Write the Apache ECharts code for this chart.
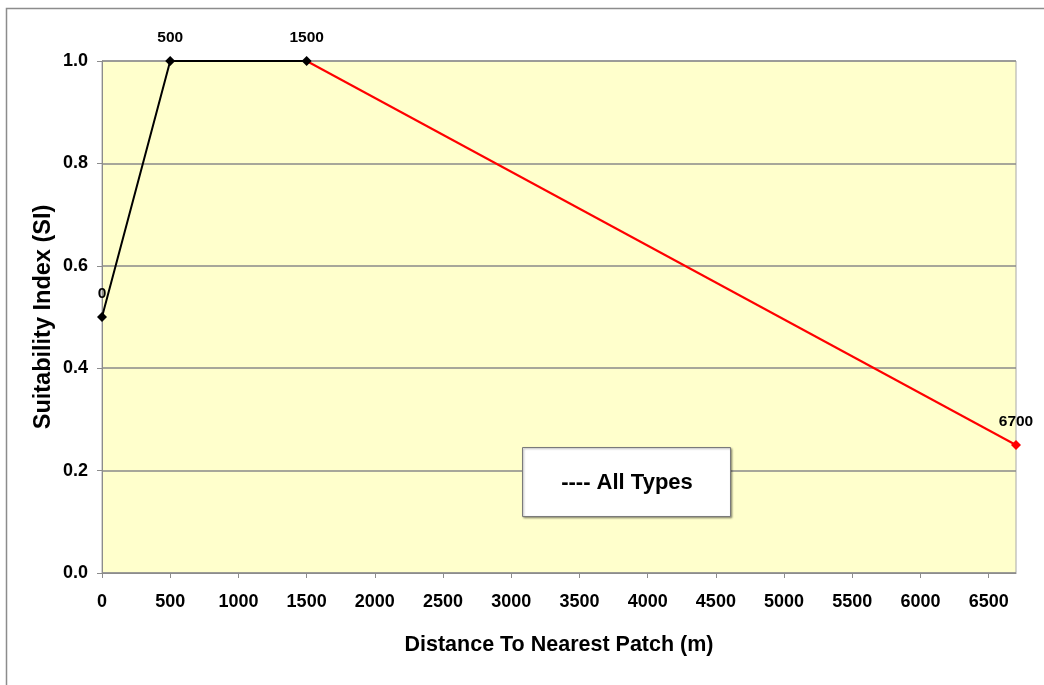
<!DOCTYPE html>
<html>
<head>
<meta charset="utf-8">
<style>
  html, body { margin: 0; padding: 0; background: #ffffff; }
  #chart { width: 1044px; height: 685px; }
</style>
<script src="https://cdn.jsdelivr.net/npm/echarts@6/dist/echarts.min.js"></script>
</head>
<body>
<div id="chart"></div>
<script>
// Distance to nearest patch (m) vs. suitability index
const risingDistance = [0, 500, 1500];
const risingSI = [0.5, 1.0, 1.0];
const fallingDistance = [1500, 6700];
const fallingSI = [1.0, 0.25];
const xTickValues = [0, 500, 1000, 1500, 2000, 2500, 3000, 3500, 4000, 4500, 5000, 5500, 6000, 6500];
const yTickValues = [0, 0.2, 0.4, 0.6, 0.8, 1.0];
const noteText = '---- All Types';

const FONT = '"Liberation Sans", Arial, sans-serif';

const chart = echarts.init(document.getElementById('chart'), null, { renderer: 'canvas' });

const risingData = risingDistance.map((x, i) => [x, risingSI[i]]);
const fallingData = fallingDistance.map((x, i) => ({
  value: [x, fallingSI[i]],
  symbol: i === 0 ? 'none' : 'diamond',
  label: { show: i !== 0 }
}));

const pointLabel = {
  show: true,
  position: 'top',
  distance: 10,
  formatter: p => String(p.value[0]),
  fontFamily: FONT,
  fontWeight: 'bold',
  fontSize: 15.5,
  color: '#000000'
};

chart.setOption({
  animation: false,
  backgroundColor: '#ffffff',
  grid: {
    left: 102, right: 28, top: 61, bottom: 112,
    show: true,
    backgroundColor: '#ffffcc',
    borderColor: '#a8a8a8',
    borderWidth: 1
  },
  xAxis: {
    type: 'value',
    min: 0, max: 6700, interval: 500,
    name: 'Distance To Nearest Patch (m)',
    nameLocation: 'middle',
    nameGap: 61,
    nameMoveOverlap: false,
    nameTextStyle: { fontFamily: FONT, fontWeight: 'bold', fontSize: 21.5, color: '#000' },
    axisLine: { show: true, lineStyle: { color: '#8c8c8c', width: 1 } },
    axisTick: { show: true, length: 5, lineStyle: { color: '#8c8c8c' }, customValues: xTickValues },
    axisLabel: {
      fontFamily: FONT, fontWeight: 'bold', fontSize: 18, color: '#000', margin: 20,
      customValues: xTickValues,
      formatter: v => String(v)
    },
    splitLine: { show: false }
  },
  yAxis: {
    type: 'value',
    min: 0, max: 1, interval: 0.2,
    name: 'Suitability Index (SI)',
    nameLocation: 'middle',
    nameGap: 46,
    nameMoveOverlap: false,
    nameTextStyle: { fontFamily: FONT, fontWeight: 'bold', fontSize: 23.5, color: '#000' },
    axisLine: { show: true, lineStyle: { color: '#8c8c8c', width: 1 } },
    axisTick: { show: true, length: 5, lineStyle: { color: '#8c8c8c' }, customValues: yTickValues },
    axisLabel: {
      fontFamily: FONT, fontWeight: 'bold', fontSize: 18, color: '#000', margin: 14,
      customValues: yTickValues,
      formatter: v => v.toFixed(1)
    },
    splitLine: { show: true, lineStyle: { color: '#8a8a8a', width: 1.5 } }
  },
  series: [
    {
      type: 'line',
      data: risingData,
      symbol: 'diamond',
      symbolSize: 10,
      lineStyle: { color: '#000000', width: 2 },
      itemStyle: { color: '#000000' },
      label: pointLabel,
      z: 3
    },
    {
      type: 'line',
      data: fallingData,
      symbol: 'diamond',
      symbolSize: 10,
      lineStyle: { color: '#ff0000', width: 2 },
      itemStyle: { color: '#ff0000' },
      label: pointLabel,
      z: 2
    }
  ],
  graphic: [
    {
      type: 'rect',
      silent: true,
      shape: { x: 6.5, y: 8.5, width: 1100, height: 800 },
      style: { fill: null, stroke: '#8c8c8c', lineWidth: 1.5 },
      z: 100
    },
    {
      type: 'rect',
      silent: true,
      shape: { x: 522.5, y: 447.5, width: 208, height: 69 },
      style: {
        fill: '#ffffff', stroke: '#7a7a7a', lineWidth: 1,
        shadowColor: 'rgba(0,0,0,0.35)', shadowBlur: 2, shadowOffsetX: 1, shadowOffsetY: 1
      },
      z: 100
    },
    {
      type: 'text',
      silent: true,
      x: 627, y: 483,
      style: {
        text: noteText,
        fontFamily: FONT, fontWeight: 'bold', fontSize: 22,
        fill: '#000000', align: 'center', verticalAlign: 'middle'
      },
      z: 101
    }
  ]
});
</script>
</body>
</html>
